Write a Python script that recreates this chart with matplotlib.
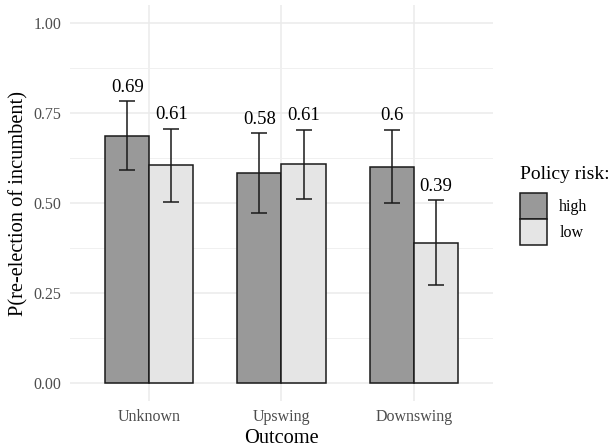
import numpy as np
import matplotlib.pyplot as plt
from matplotlib.patches import Patch
from matplotlib.ticker import MultipleLocator

outcomes = ['Unknown', 'Upswing', 'Downswing']
risk_levels = ['high', 'low']
colors = {'high': '#999999', 'low': '#E5E5E5'}

# P(re-election), lower and upper bounds of the error bars
p_high = [0.687, 0.583, 0.601]
lo_high = [0.591, 0.472, 0.500]
hi_high = [0.783, 0.694, 0.703]
p_low = [0.606, 0.608, 0.390]
lo_low = [0.503, 0.511, 0.272]
hi_low = [0.706, 0.703, 0.508]
labels_high = ['0.69', '0.58', '0.6']
labels_low = ['0.61', '0.61', '0.39']

plt.rcParams['font.family'] = ['Liberation Serif', 'DejaVu Serif']

fig = plt.figure(figsize=(6.14, 4.47), dpi=100)
ax = fig.add_axes([70 / 614, 46 / 447, 423 / 614, 396 / 447])

x = np.arange(1, len(outcomes) + 1)
w = 1 / 3
series = [
    ('high', -w / 2, p_high, lo_high, hi_high, labels_high),
    ('low', w / 2, p_low, lo_low, hi_low, labels_low),
]
for name, off, p, lo, hi, labs in series:
    p = np.array(p)
    lo = np.array(lo)
    hi = np.array(hi)
    ax.bar(x + off, p, width=w, color=colors[name], edgecolor='#1a1a1a',
           linewidth=1.1, zorder=2)
    ax.errorbar(x + off, p, yerr=[p - lo, hi - p], fmt='none', ecolor='#1a1a1a',
                elinewidth=1.1, capsize=5.8, capthick=1.1, zorder=3)
    for xi, top, lab in zip(x + off, hi, labs):
        ax.annotate(lab, (xi, top), xytext=(0, 4), textcoords='offset points',
                    ha='center', va='bottom', fontsize=13.5, color='black')

ax.set_xlim(0.4, 3.6)
ax.set_ylim(-0.05, 1.05)
ax.set_xticks(x)
ax.set_xticklabels(outcomes)
ax.yaxis.set_minor_locator(MultipleLocator(0.125))
ax.set_yticks([0, 0.25, 0.5, 0.75, 1.0])
ax.set_yticklabels(['0.00', '0.25', '0.50', '0.75', '1.00'])

ax.grid(which='major', color='#EBEBEB', linewidth=1.1, zorder=0)
ax.grid(which='minor', axis='y', color='#F0F0F0', linewidth=0.7, zorder=0)
ax.set_axisbelow(True)
for s in ax.spines.values():
    s.set_visible(False)
ax.tick_params(which='both', length=0)
ax.tick_params(axis='both', labelsize=11.5, labelcolor='#4D4D4D', pad=6)

ax.set_xlabel('Outcome', fontsize=14.7, labelpad=2.5)
ax.set_ylabel('P(re-election of incumbent)', fontsize=14.7, labelpad=4)

handles = [Patch(facecolor=colors[r], edgecolor='#1a1a1a', linewidth=1.1) for r in risk_levels]
leg = fig.legend(handles, risk_levels, title='Policy risk:', loc='upper left',
                 bbox_to_anchor=(517 / 614, 1 - 163 / 447), frameon=False,
                 fontsize=11.5, title_fontsize=14, handlelength=1.65,
                 handleheight=2.15, labelspacing=0.0, handletextpad=0.8,
                 borderpad=0.2, borderaxespad=0)
leg._legend_box.align = 'left'
leg._legend_box.sep = 7

fig.savefig('out.png', dpi=100)
